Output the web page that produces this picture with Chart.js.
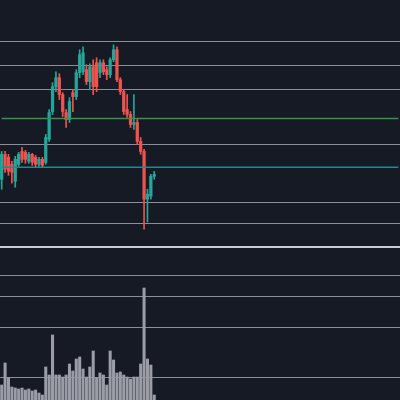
<!DOCTYPE html>
<html>
<head>
<script src="https://cdn.jsdelivr.net/npm/chart.js@4"></script>
<style>
  body { margin: 0; background: #161a25; }
  #wrap { width: 400px; height: 400px; position: relative; overflow: hidden; }
  #price { position: absolute; left: 0; top: 0; width: 400px; height: 246px; }
  #sep { position: absolute; left: 0; top: 246px; width: 400px; height: 2px; background: #c9ccd3; }
  #vol { position: absolute; left: 0; top: 248px; width: 400px; height: 152px; }
</style>
</head>
<body>
<div id="wrap">
  <div id="price"><canvas id="priceChart"></canvas></div>
  <div id="sep"></div>
  <div id="vol"><canvas id="volChart"></canvas></div>
</div>
<script>
const SLOTS = 118;
const opens  = [70,95,92,85,68,85,98,97,88,95,92,85,90,87,110,138,163,172,155,137,130,157,153,177,178,180,168,183,187,177,187,180,175,190,200,170,158,140,135,125,127,108,98,50,53,73];
const closes = [95,80,78,77,90,95,90,90,95,87,85,90,84,112,137,163,172,155,138,130,148,153,177,195,197,168,183,163,163,187,178,175,190,200,170,158,138,135,125,127,108,98,50,55,73,75];
const highs  = [98,98,95,88,93,97,102,99,97,96,94,92,92,115,140,167,178,176,157,140,152,160,180,200,203,185,186,190,192,190,190,183,192,205,203,172,160,155,138,155,130,112,100,60,75,78];
const lows   = [60,77,74,66,62,83,87,86,86,84,82,83,82,85,108,135,158,150,133,122,127,138,150,172,175,165,160,155,158,172,175,170,172,188,168,155,135,132,122,120,105,95,20,27,50,70];
const volumes = [15,37,22,13,12,11,12,10,11,9,10,7,5,33,25,65,25,25,23,25,36,29,41,43,31,23,33,49,22,27,25,15,49,40,27,28,25,23,21,23,23,36,112,41,35,5];
const priceGrid = [208,184,160,105,47,26];
const greenLevel = 131;
const tealLevel = 82;
const volGrid = [125,103,73,23];

const UP = '#26a69a', DOWN = '#ef5350';
const labels = Array.from({ length: SLOTS }, (_, i) => i);
const colors = opens.map((o, i) => closes[i] >= o ? UP : DOWN);

function gridAxis(min, max, ticks) {
  return {
    min: min, max: max,
    afterBuildTicks: axis => { axis.ticks = ticks.map(v => ({ value: v })); },
    ticks: { display: false },
    border: { display: false },
    grid: { color: '#8b8f99', lineWidth: 1, drawTicks: false }
  };
}

new Chart(document.getElementById('priceChart'), {
  data: {
    labels: labels,
    datasets: [
      { type: 'line', data: labels.map(() => greenLevel), borderColor: '#2e9a3e', borderWidth: 1.5, pointRadius: 0 },
      { type: 'line', data: labels.map(() => tealLevel), borderColor: '#1f8a96', borderWidth: 1.5, pointRadius: 0 },
      { type: 'bar', data: lows.map((l, i) => [l, highs[i]]), backgroundColor: colors, barThickness: 1, grouped: false },
      { type: 'bar', data: opens.map((o, i) => [o, closes[i]]), backgroundColor: colors, barThickness: 2.6, grouped: false }
    ]
  },
  options: {
    responsive: true, maintainAspectRatio: false, animation: false,
    layout: { padding: 0 },
    plugins: { legend: { display: false }, tooltip: { enabled: false } },
    scales: {
      x: { display: false, offset: true },
      y: gridAxis(3, 250, priceGrid)
    }
  }
});

new Chart(document.getElementById('volChart'), {
  type: 'bar',
  data: {
    labels: labels,
    datasets: [{ data: volumes, backgroundColor: '#9a9da6', barThickness: 2.4 }]
  },
  options: {
    responsive: true, maintainAspectRatio: false, animation: false,
    layout: { padding: 0 },
    plugins: { legend: { display: false }, tooltip: { enabled: false } },
    scales: {
      x: { display: false, offset: true },
      y: gridAxis(0, 152, volGrid)
    }
  }
});
</script>
</body>
</html>
